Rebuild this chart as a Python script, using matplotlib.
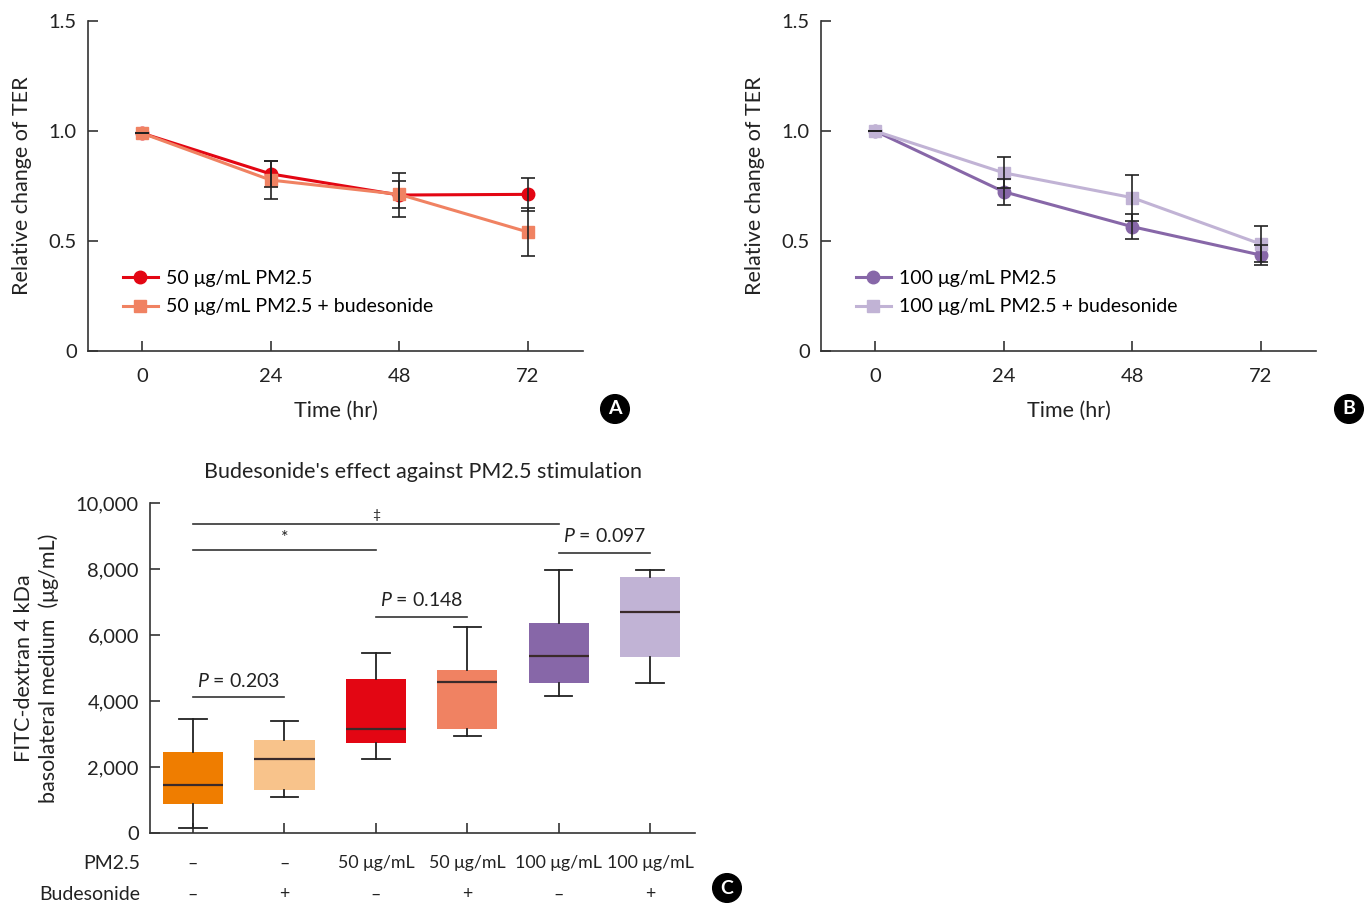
import numpy as np
import matplotlib
matplotlib.use("Agg")
import matplotlib.pyplot as plt

plt.rcParams['font.family'] = ['Lato', 'DejaVu Sans']
plt.rcParams['mathtext.fontset'] = 'custom'
plt.rcParams['mathtext.rm'] = 'Lato'
plt.rcParams['mathtext.it'] = 'Lato:italic'

# Panel A / B data (relative TER, mean and SD)
time_hr = [0, 24, 48, 72]
ter_50 = [0.99, 0.805, 0.709, 0.712]
err_50 = [0, 0.06, 0.10, 0.075]
ter_50_bud = [0.99, 0.777, 0.712, 0.541]
err_50_bud = [0, 0.085, 0.06, 0.11]
ter_100 = [1.0, 0.724, 0.565, 0.436]
err_100 = [0, 0.06, 0.057, 0.045]
ter_100_bud = [1.0, 0.81, 0.697, 0.486]
err_100_bud = [0, 0.07, 0.105, 0.08]

# Panel C box summaries (FITC-dextran, ug/mL)
whisker_low = [140, 1100, 2250, 2950, 4150, 4550]
q1 = [880, 1300, 2730, 3160, 4550, 5340]
median = [1460, 2240, 3160, 4580, 5360, 6710]
q3 = [2440, 2810, 4670, 4940, 6370, 7760]
whisker_high = [3440, 3390, 5460, 6250, 7980, 7980]
box_colors = ['#EF7D00', '#F8C38B', '#E30613', '#F08262', '#8767A8', '#C1B3D5']
pm_labels = ['–', '–', '50 μg/mL', '50 μg/mL', '100 μg/mL', '100 μg/mL']
bud_labels = ['–', '+', '–', '+', '–', '+']

fig = plt.figure(figsize=(13.7, 9.07), dpi=100)

def style_axes(ax):
    for s in ['top', 'right']:
        ax.spines[s].set_visible(False)
    for s in ['left', 'bottom']:
        ax.spines[s].set_linewidth(1.2)
        ax.spines[s].set_color('#333333')
    ax.tick_params(direction='in', length=7, width=1.2, colors='#333333',
                   labelcolor='#222222', labelsize=14.5)

def line_panel(ax, y1, e1, y2, e2, c1, c2, lab1, lab2):
    ax.plot(time_hr, y1, color=c1, lw=2.2, marker='o', ms=9, label=lab1, zorder=3)
    ax.plot(time_hr, y2, color=c2, lw=2.2, marker='s', ms=8, label=lab2, zorder=3)
    ax.errorbar(time_hr, y1, yerr=e1, fmt='none', ecolor='#222222', elinewidth=1.2,
                capsize=5, capthick=1.2, zorder=4)
    ax.errorbar(time_hr, y2, yerr=e2, fmt='none', ecolor='#222222', elinewidth=1.2,
                capsize=5, capthick=1.2, zorder=4)
    ax.set_xlim(-10.1, 82.3)
    ax.set_ylim(0, 1.5)
    ax.set_xticks(time_hr)
    ax.set_yticks([0, 0.5, 1.0, 1.5])
    ax.set_yticklabels(['0', '0.5', '1.0', '1.5'])
    ax.set_xlabel('Time (hr)', fontsize=15.5, color='#222222', labelpad=12)
    ax.set_ylabel('Relative change of TER', fontsize=15.5, color='#222222', labelpad=12)
    ax.tick_params(axis='x', pad=12)
    ax.tick_params(axis='y', pad=8)
    style_axes(ax)
    ax.legend(loc='lower left', bbox_to_anchor=(0.035, 0.055), frameon=False, fontsize=14,
              handlelength=1.8, handletextpad=0.4, labelspacing=0.6)

ax_a = fig.add_axes([88 / 1370, 1 - 351 / 907, 495 / 1370, 330 / 907])
line_panel(ax_a, ter_50, err_50, ter_50_bud, err_50_bud, '#E30613', '#F08262',
           '50 μg/mL PM2.5', '50 μg/mL PM2.5 + budesonide')

ax_b = fig.add_axes([821 / 1370, 1 - 351 / 907, 495 / 1370, 330 / 907])
line_panel(ax_b, ter_100, err_100, ter_100_bud, err_100_bud, '#8767A8', '#C1B3D5',
           '100 μg/mL PM2.5', '100 μg/mL PM2.5 + budesonide')

# Panel C box plot
ax_c = fig.add_axes([150 / 1370, 1 - 833 / 907, 545 / 1370, 330 / 907])
positions = np.arange(1, 7)
stats = []
for i in range(6):
    stats.append(dict(whislo=whisker_low[i], q1=q1[i], med=median[i], q3=q3[i],
                      whishi=whisker_high[i], fliers=[]))
bp = ax_c.bxp(stats, positions=positions, widths=0.66, capwidths=0.3, patch_artist=True,
              showfliers=False,
              boxprops=dict(linewidth=0),
              medianprops=dict(color='#3a2a2a', linewidth=1.6),
              whiskerprops=dict(color='#222222', linewidth=1.3),
              capprops=dict(color='#222222', linewidth=1.3))
for patch, c in zip(bp['boxes'], box_colors):
    patch.set_facecolor(c)
    patch.set_edgecolor(c)

ax_c.set_xlim(0.53, 6.49)
ax_c.set_ylim(0, 10000)
ax_c.set_yticks([0, 2000, 4000, 6000, 8000, 10000])
ax_c.set_yticklabels(['0', '2,000', '4,000', '6,000', '8,000', '10,000'])
ax_c.set_xticks(positions)
ax_c.set_xticklabels([])
style_axes(ax_c)
ax_c.tick_params(axis='y', pad=8)
ax_c.set_ylabel('FITC-dextran 4 kDa\nbasolateral medium  (μg/mL)', fontsize=15.5,
                color='#222222', labelpad=12, linespacing=1.25)
ax_c.set_title("Budesonide's effect against PM2.5 stimulation", fontsize=15.5,
               color='#222222', pad=18)

# significance brackets
def bracket(x1, x2, y, label, ty, size=14):
    ax_c.plot([x1, x2], [y, y], color='#333333', lw=1.2, clip_on=False)
    ax_c.text((x1 + x2) / 2, ty, label, ha='center', va='center', fontsize=size, color='#222222')

bracket(1, 5, 9350, '‡', 9650, size=10)
bracket(1, 3, 8580, '*', 8950, size=13)
bracket(5, 6, 8480, '$P$ = 0.097', 9000)
bracket(3, 4, 6560, '$P$ = 0.148', 7060)
bracket(1, 2, 4120, '$P$ = 0.203', 4600)

# condition rows below panel C
trans = ax_c.get_xaxis_transform()
ax_c.text(0.425, -0.092, 'PM2.5', transform=trans, ha='right', va='center',
          fontsize=14, color='#222222')
ax_c.text(0.425, -0.186, 'Budesonide', transform=trans, ha='right', va='center',
          fontsize=14, color='#222222')
for p, pl, bl in zip(positions, pm_labels, bud_labels):
    ax_c.text(p, -0.092, pl, transform=trans, ha='center', va='center', fontsize=12.8,
              color='#222222')
    ax_c.text(p, -0.186, bl, transform=trans, ha='center', va='center', fontsize=12.8,
              color='#222222')

# panel letters
for lx, ly, letter in [(615, 409, 'A'), (1349, 409, 'B'), (727, 888, 'C')]:
    fig.text(lx / 1370, 1 - ly / 907, letter, ha='center', va='center', fontsize=14,
             fontweight='bold', color='white',
             bbox=dict(boxstyle='circle,pad=0.3', fc='black', ec='black'))

fig.savefig('out.png', dpi=100)
